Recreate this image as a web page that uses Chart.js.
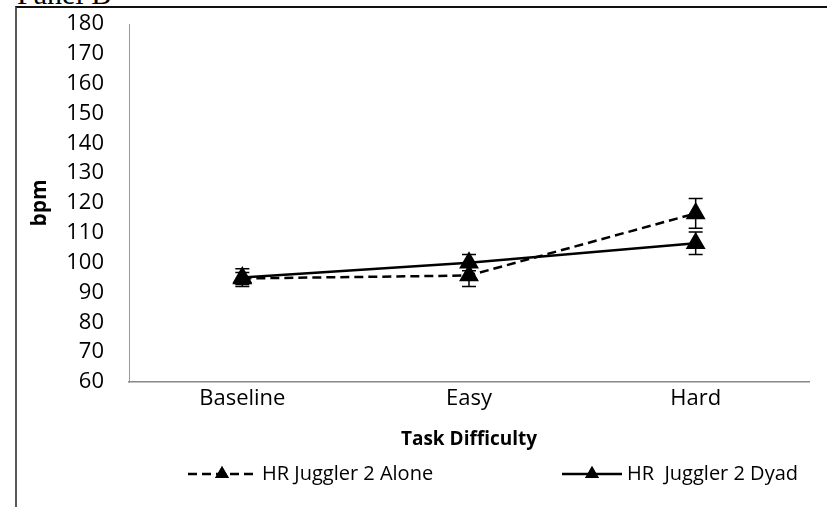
<!DOCTYPE html>
<html>
<head>
<meta charset="utf-8">
<script src="https://cdn.jsdelivr.net/npm/chart.js@4"></script>
<style>
  html, body { margin: 0; padding: 0; background: #fff; overflow: hidden; }
  #wrap { position: relative; width: 827px; height: 507px; }
  #frame { position: absolute; left: 15px; top: 6px; right: 0; bottom: 0; border-top: 2px solid #111; border-left: 2px solid #595959; }
  #panel { position: absolute; left: 17px; top: -21px; font: 30px "Liberation Serif"; line-height: 30px; color: #000; white-space: nowrap; }
  canvas { position: absolute; left: 0; top: 0; }
</style>
</head>
<body>
<div id="wrap">
  <div id="panel">Panel B</div>
  <div id="frame"></div>
  <canvas id="hrChart" width="827" height="507"></canvas>
</div>
<script>
// --- data ---
const categories = ['Baseline', 'Easy', 'Hard'];
const aloneValues = [94.7, 95.7, 116.5];
const aloneErrors = [2.0, 3.7, 5.0];
const dyadValues = [95.0, 100.0, 106.5];
const dyadErrors = [3.0, 2.7, 3.8];
const yMin = 60, yMax = 180, yStep = 10;
const seriesNames = ['HR Juggler 2 Alone', 'HR  Juggler 2 Dyad'];

Chart.defaults.font.family = '"Open Sans", sans-serif';
Chart.defaults.color = '#000';

// error bars drawn from each dataset's errors array
const errorBars = {
    id: 'errorBars',
    afterDatasetsDraw(chart) {
        const ctx = chart.ctx;
        const y = chart.scales.y;
        ctx.save();
        ctx.strokeStyle = '#000';
        ctx.lineWidth = 1.5;
        chart.data.datasets.forEach((ds, i) => {
            const meta = chart.getDatasetMeta(i);
            meta.data.forEach((pt, j) => {
                const top = y.getPixelForValue(ds.data[j] + ds.errors[j]);
                const bot = y.getPixelForValue(ds.data[j] - ds.errors[j]);
                ctx.beginPath();
                ctx.moveTo(pt.x, top); ctx.lineTo(pt.x, bot);
                ctx.moveTo(pt.x - 7, top); ctx.lineTo(pt.x + 7, top);
                ctx.moveTo(pt.x - 7, bot); ctx.lineTo(pt.x + 7, bot);
                ctx.stroke();
            });
        });
        ctx.restore();
    }
};

// line + marker legend like the spreadsheet one
const lineLegend = {
    id: 'lineLegend',
    afterDraw(chart) {
        const ctx = chart.ctx;
        const spots = [{ x0: 188, x1: 256, tx: 262 }, { x0: 562, x1: 622, tx: 627 }];
        const ly = 474;
        ctx.save();
        chart.data.datasets.forEach((ds, i) => {
            const s = spots[i];
            ctx.strokeStyle = '#000';
            ctx.lineWidth = 2.5;
            ctx.setLineDash(ds.borderDash || []);
            ctx.beginPath();
            ctx.moveTo(s.x0, ly); ctx.lineTo(s.x1, ly);
            ctx.stroke();
            ctx.setLineDash([]);
            ctx.fillStyle = '#000';
            Chart.helpers.drawPoint(ctx, { pointStyle: 'triangle', radius: 8, rotation: 0, borderWidth: 0 }, (s.x0 + s.x1) / 2, ly);
            ctx.fill();
            ctx.font = '20px "Open Sans"';
            ctx.textBaseline = 'middle';
            ctx.textAlign = 'left';
            ctx.fillText(ds.label, s.tx, ly);
        });
        ctx.restore();
    }
};

new Chart(document.getElementById('hrChart').getContext('2d'), {
    type: 'line',
    data: {
        labels: categories,
        datasets: [
            {
                label: seriesNames[0], data: aloneValues, errors: aloneErrors,
                borderColor: '#000', borderWidth: 2.5, borderDash: [9, 5],
                pointStyle: 'triangle', pointRadius: 9, pointBackgroundColor: '#000', pointBorderColor: '#000',
                tension: 0
            },
            {
                label: seriesNames[1], data: dyadValues, errors: dyadErrors,
                borderColor: '#000', borderWidth: 2.5,
                pointStyle: 'triangle', pointRadius: 9, pointBackgroundColor: '#000', pointBorderColor: '#000',
                tension: 0
            }
        ]
    },
    options: {
        responsive: false,
        animation: false,
        layout: { padding: { top: 24, right: 18, bottom: 55, left: 0 } },
        plugins: { legend: { display: false }, tooltip: { enabled: false } },
        scales: {
            x: {
                offset: true,
                grid: { display: false, drawTicks: false },
                border: { color: '#888', width: 1.5 },
                ticks: { font: { size: 22 }, padding: 4, color: '#000' },
                title: { display: true, text: 'Task Difficulty', font: { size: 19, weight: 'bold' }, color: '#000', padding: { top: 0, bottom: 0.6 } },
                afterFit(s) { s.height = 70; }
            },
            y: {
                min: yMin, max: yMax,
                // invisible tick marks give the label gap without padding the top of the plot
                grid: { drawOnChartArea: false, drawTicks: true, tickLength: 25, tickColor: 'rgba(0,0,0,0)' },
                border: { color: '#999', width: 1 },
                ticks: { stepSize: yStep, autoSkip: false, font: { size: 22 }, padding: 0, color: '#000' },
                title: { display: true, text: 'bpm', font: { size: 21, weight: 'bold' }, color: '#000', padding: { top: 27, bottom: 0 } },
                afterFit(s) { s.width = 129; }
            }
        }
    },
    plugins: [errorBars, lineLegend]
});
</script>
</body>
</html>
